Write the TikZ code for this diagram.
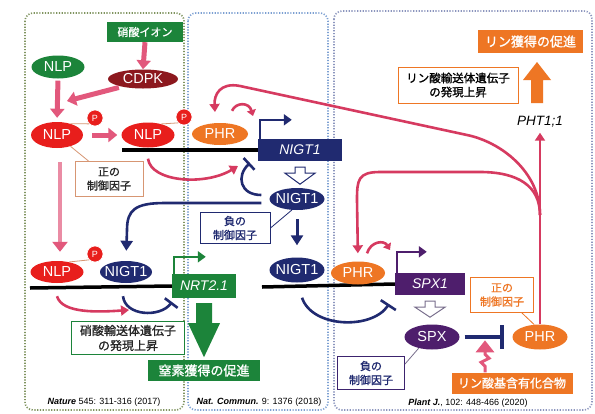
\documentclass[tikz,border=0pt]{standalone}
\usepackage{fontspec}
\setmainfont{Liberation Sans}
\newfontfamily\jp{Noto Sans CJK JP}[FakeBold=1.2]
\usetikzlibrary{shapes.geometric,arrows.meta,calc}
\definecolor{pinkL}{RGB}{226,88,124}
\definecolor{pinkD}{RGB}{214,58,96}
\definecolor{pinkT}{RGB}{234,140,164}
\definecolor{redN}{RGB}{232,30,28}
\definecolor{greenN}{RGB}{28,132,58}
\definecolor{cdpkC}{RGB}{140,24,30}
\definecolor{navyC}{RGB}{32,42,112}
\definecolor{orangeC}{RGB}{238,118,36}
\definecolor{purpleC}{RGB}{78,30,108}
\definecolor{olivePan}{RGB}{128,148,96}
\definecolor{bluePan}{RGB}{125,160,210}
\definecolor{greyPan}{RGB}{140,150,190}
\definecolor{brownL}{RGB}{215,150,115}
\definecolor{hollowG}{RGB}{120,110,140}
\begin{document}
\begin{tikzpicture}[x=1pt,y=-1pt,
 ell/.style={ellipse,inner sep=-6pt,text=white,font=\fontsize{14.5}{14.5}\selectfont},
 pcirc/.style={circle,fill=redN,draw=white,line width=0.6pt,text=white,inner sep=0pt,minimum size=16pt,font=\fontsize{9}{9}\selectfont},
 fbox/.style={rectangle,inner sep=0pt,text=white},
 lbl/.style={rectangle,draw,line width=1pt,fill=white,align=center,inner sep=0pt,font=\jp\fontsize{11}{14}\selectfont},
 pthick/.style={draw=pinkL,line width=5pt,-{Triangle[width=14pt,length=9pt]}},
 pline/.style={draw=pinkD,line width=2.6pt,-{Triangle[width=10pt,length=8pt]}},
 psmall/.style={draw=pinkD,line width=2.6pt,-{Triangle[width=9pt,length=6pt]}},
 nline/.style={draw=navyC,line width=2.6pt},
 dna/.style={draw=black,line width=3.5pt},
 panel/.style={rounded corners=8pt,line width=1.6pt,dash pattern=on 1.2pt off 1.6pt},
 cite/.style={font=\fontsize{9}{9}\selectfont,inner sep=0pt},
 gene/.style={rectangle,inner sep=0pt,text=white,minimum height=22pt,font=\itshape\fontsize{14}{14}\selectfont},
 tie/.style={draw=brownL,line width=0.8pt},
]
\useasboundingbox (0,0) rectangle (595,413);
\fill[white] (0,0) rectangle (595,413);
% panels
\draw[panel,draw=olivePan] (25,13) rectangle (184,410);
\draw[panel,draw=bluePan] (188,13) rectangle (328,410);
\draw[panel,draw=greyPan] (334,11) rectangle (592,410);

% ---------- left panel top ----------
\node[fbox,fill=greenN,minimum width=76pt,minimum height=20pt,font=\jp\fontsize{11}{11}\selectfont] (nitrate) at (145,32) {硝酸イオン};
\node[ell,fill=cdpkC,minimum width=70pt,minimum height=19pt] (cdpk) at (143,79) {CDPK};
\node[ell,fill=greenN,minimum width=53pt,minimum height=23pt] (nlpg) at (58,67) {NLP};
\coordinate (dna1s) at (122,150);
\coordinate (dna2s) at (262,287);
\coordinate (dna3s) at (30,288);
\node[gene,fill=navyC,minimum width=84pt] (g1) at (300,150) {NIGT1};
\node[gene,fill=purpleC,minimum width=70pt] (g2) at (430,284) {SPX1};
\node[gene,fill=greenN,minimum width=64pt,minimum height=24pt] (g3) at (204,286) {NRT2.1};
\draw[dna] (dna1s) -- (g1.west);
\draw[dna] (dna2s) -- (g2.west);
\draw[dna] (dna3s) -- (g3.west);

\node[ell,fill=redN,minimum width=52pt,minimum height=26pt] (nlp1) at (57,135) {NLP};
\node[pcirc] (p1) at (95,118) {P};
\node[ell,fill=redN,minimum width=53pt,minimum height=25pt] (nlp2) at (148,135) {NLP};
\node[ell,fill=orangeC,minimum width=56pt,minimum height=22pt] (phr1) at (220,134) {PHR};
\node[pcirc] (p2) at (184,117) {P};
\draw[tie] (nlp1.40) -- (p1.225);
\draw[tie] (nlp2.40) -- (p2.225);

\node[lbl,draw=brownL,text=black!85,line width=0.8pt,minimum width=68pt,minimum height=35pt] (pos1) at (109,179) {正の\\制御因子};
\draw[tie] ($(pos1.north west)+(14,0)$) -- (nlp1.-40);

\coordinate (cdpkTip) at (67,101);
\draw[pthick] (nitrate.south) -- (cdpk.north);
\draw[pthick,shorten <=3pt] (cdpk.200) -- (cdpkTip);
\draw[pthick,shorten <=2pt,shorten >=4pt] (nlpg.south) -- (nlp1.north);
\draw[pthick,shorten <=9pt,shorten >=4pt] (nlp1.east) -- (nlp2.west);

% NIGT1 gene transcription start
\draw[draw=navyC,line width=2.6pt,-{Triangle[width=11pt,length=8pt]}] ($(g1.north west)+(2,0)$) -- ++(0,-19) -- ++(32,0);
% PHR1 -> start
\draw[psmall] ($(phr1.north)+(12,-12)$) .. controls (236,102) and (249,102) .. (253,116);
% NLP -> NIGT1 promoter
\draw[pline] ($(nlp2.south)+(0,11)$) .. controls (151,182) and (205,186) .. (238,166);
% hollow arrow NIGT1
\draw[navyC,line width=1pt,fill=white,shift={(g1.south)}] (-5,6) -- (5,6) -- (5,12) -- (15,12) -- (0,23) -- (-15,12) -- (-5,12) -- cycle;

% middle
\node[ell,fill=navyC,minimum width=55pt,minimum height=22pt] (nigt1a) at (297,199) {NIGT1};
\node[ell,fill=navyC,minimum width=55pt,minimum height=25pt] (nigt1b) at (297,270) {NIGT1};
\node[ell,fill=orangeC,minimum width=54pt,minimum height=23pt] (phr2) at (358,273) {PHR};
\node[ell,fill=redN,minimum width=53pt,minimum height=22pt] (nlp3) at (57,272) {NLP};
\node[pcirc] (p3) at (95,254) {P};
\node[ell,fill=navyC,minimum width=52pt,minimum height=22pt] (nigt1c) at (126,272) {NIGT1};
\draw[tie] (nlp3.40) -- (p3.225);

\draw[nline,-{Bar[width=16pt]}] ($(nigt1a.west)+(-8,-4)$) .. controls (240,195) and (236,176) .. (250,163);
\draw[nline,-{Triangle[width=12pt,length=10pt]},shorten >=10pt] ($(nigt1a.west)+(-8,4)$) -- (165,203) .. controls (135,203) and (127,210) .. (127,230) -- (nigt1c.north);

\node[lbl,draw=navyC,text=navyC,minimum width=70pt,minimum height=31pt] (neg1) at (235,228) {負の\\制御因子};
\draw[navyC,line width=0.8pt] (neg1.east) -- (nigt1a.245);
\draw[nline,line width=3pt,-{Triangle[width=12pt,length=10pt]},shorten <=9pt,shorten >=12pt] (nigt1a.south) -- (nigt1b.north);

% NIGT1 inhibits SPX1
\draw[nline,-{Bar[width=18pt]}] ($(nigt1b.south)+(5,15)$) .. controls (312,328) and (372,330) .. (389,304);

% SPX1 start
\draw[draw=purpleC,line width=2.6pt,-{Triangle[width=11pt,length=8pt]}] ($(g2.north west)+(2,0)$) -- ++(0,-21) -- ++(30,0);
\draw[psmall] ($(phr2.north)+(9,-8)$) .. controls (371,241) and (384,240) .. (390,250);
\draw[hollowG,line width=1pt,fill=white,shift={(g2.south)}] (-5,6) -- (5,6) -- (5,12) -- (15,12) -- (0,22) -- (-15,12) -- (-5,12) -- cycle;

% right bottom
\node[ell,fill=purpleC,minimum width=55pt,minimum height=25pt] (spx) at (432,337) {SPX};
\node[ell,fill=orangeC,minimum width=55pt,minimum height=25pt] (phr3) at (540,337) {PHR};
\draw[nline,line width=4pt,-{Bar[width=24pt]},shorten <=5pt,shorten >=8pt] (spx.east) -- (phr3.west);
\node[lbl,draw=orangeC,text=orangeC,line width=0.8pt,minimum width=63pt,minimum height=35pt] (pos2) at (502,295) {正の\\制御因子};
\draw[orangeC,line width=0.8pt] ($(pos2.south east)+(-12,0)$) -- (phr3.115);
\node[fbox,fill=orangeC,minimum width=121pt,minimum height=21pt,font=\jp\fontsize{12}{12}\selectfont] (pcomp) at (512,383) {リン酸基含有化合物};
\draw[draw=pinkL,line width=3pt,-{Triangle[width=18pt,length=12pt]}] ($(pcomp.north)+(-27,0)$) -- ++(0,-6) -- ++(-4,-4) -- ++(8,-4) -- ++(-4,-4) -- ++(0,-14);
\node[lbl,draw=purpleC!60!navyC,text=navyC,minimum width=67pt,minimum height=33pt] (neg2) at (371,373) {負の\\制御因子};
\draw[hollowG,line width=0.8pt] ($(neg2.north east)+(0,8)$) -- (spx.220);

% right top
\node[fbox,fill=orangeC,minimum width=105pt,minimum height=23pt,font=\jp\fontsize{13}{13}\selectfont] (pacq) at (530.5,41.5) {リン獲得の促進};
\node[lbl,draw=orangeC,line width=1pt,minimum width=120pt,minimum height=36pt,font=\jp\fontsize{11.5}{14}\selectfont] (ptr) at (458,85) {リン酸輸送体遺伝子\\の発現上昇};
\fill[orangeC] (531,103) -- (543,103) -- (543,80) -- (551,80) -- (537,62) -- (523,80) -- (531,80) -- cycle;
\node[font=\itshape\fontsize{13.5}{13.5}\selectfont,inner sep=1pt] (pht) at (540,122) {PHT1;1};

% long pink lines
\coordinate (jn) at (540,215);
\draw[pline,shorten >=4pt] (phr3.north) -- (pht.south);
\draw[pline] (jn) .. controls (540,172) and (501,142) .. (467,135) -- (240,86) .. controls (220,82) and (214,95) .. (215,112);
\draw[pline,shorten >=8pt] (jn) .. controls (540,186) and (518,172) .. (480,172) -- (380,172) .. controls (358,172) and (357,180) .. (357,200) -- (phr2.north);

% left bottom
\draw[draw=pinkT,line width=4pt,-{Triangle[width=15pt,length=10pt,color=pinkL]}] ($(nlp1.south)+(3,14)$) -- ($(nlp3.north)+(3,-9)$);
\draw[draw=greenN,line width=2.6pt,-{Triangle[width=11pt,length=8pt]}] ($(g3.north west)+(2,0)$) -- ++(0,-17) -- ++(32,0);
\draw[pline] ($(nlp3.south)+(0,13)$) .. controls (62,314) and (100,312) .. (129,310);
\draw[nline,-{Bar[width=16pt]}] ($(nigt1c.south)+(-3,13)$) .. controls (125,316) and (160,318) .. (172,302);
\node[lbl,draw=greenN,text=black!85,minimum width=113pt,minimum height=33pt,font=\jp\fontsize{12}{15}\selectfont] (ntr) at (128,338) {硝酸輸送体遺伝子\\の発現上昇};
\fill[greenN,shift={(g3.south)}] (-8,5) -- (8,5) -- (8,25) -- (16,25) -- (0,59) -- (-16,25) -- (-8,25) -- cycle;
\node[fbox,fill=greenN,minimum width=112pt,minimum height=21pt,font=\jp\fontsize{13}{13}\selectfont] (nacq) at (204,370.5) {窒素獲得の促進};

% citations
\node[cite] (c1) at (104,402) {\textbf{\textit{Nature}} 545: 311-316 (2017)};
\node[cite] (c2) at (259,402) {\textbf{\textit{Nat. Commun.}} 9: 1376 (2018)};
\node[cite] (c3) at (468,403) {\textbf{\textit{Plant J.}}, 102: 448-466 (2020)};
\end{tikzpicture}
\end{document}
